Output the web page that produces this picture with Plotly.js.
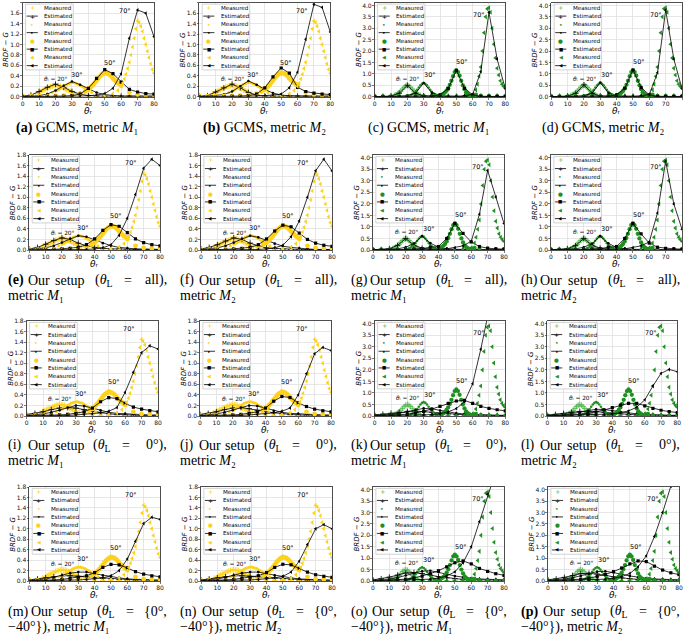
<!DOCTYPE html>
<html><head><meta charset="utf-8">
<script src="https://cdn.plot.ly/plotly-3.0.1.min.js"></script>
<style>html,body{margin:0;padding:0;background:#fff;}#chart{width:685px;height:641px;}</style>
</head><body><div id="chart"></div>
<script>
// ---------------- DATA ----------------
const thetaR = [0,5,10,15,20,25,30,35,40,45,50,55,60,65,70,75,80];
const xTickVals = [0,10,20,30,40,50,60,70,80];
const yTickValsY = [0,0.2,0.4,0.6,0.8,1.0,1.2,1.4,1.6,1.8];
const yTickValsG = [0,0.5,1.0,1.5,2.0,2.5,3.0,3.5,4.0];
const incidence = ['20°','30°','50°','70°'];

// measured, yellow panels
const mY20x = [0,5,8,10,11,12,13,14,15,16,17,18,19,20,21,22,23,24,25,26,27,28,29,30,32,35,40,45,50,55,60,65,70,75,80];
const mY20y = [0.01,0.02,0.06,0.09,0.10,0.12,0.13,0.15,0.16,0.18,0.19,0.20,0.21,0.22,0.21,0.21,0.20,0.18,0.17,0.15,0.13,0.12,0.10,0.09,0.06,0.04,0.02,0.01,0.01,0.01,0.01,0.01,0.01,0.01,0.01];
const mY30x = [0,5,10,15,18,20,21,22,23,24,25,26,27,28,29,30,31,32,33,34,35,36,37,38,39,40,42,45,50,55,60,65,70,75,80];
const mY30y = [0.01,0.01,0.02,0.05,0.08,0.11,0.12,0.14,0.16,0.18,0.20,0.22,0.24,0.25,0.26,0.27,0.27,0.26,0.25,0.24,0.22,0.20,0.18,0.16,0.14,0.12,0.08,0.04,0.02,0.01,0.01,0.01,0.01,0.01,0.01];
const mY50x = [0,5,10,15,20,25,30,35,38,40,41,42,43,44,45,46,47,48,49,50,51,52,53,54,55,56,57,58,59,60,65,70,75,80];
const mY50y = [0.01,0.01,0.01,0.01,0.01,0.02,0.03,0.06,0.10,0.14,0.17,0.20,0.23,0.27,0.31,0.35,0.39,0.42,0.44,0.46,0.45,0.44,0.42,0.39,0.35,0.32,0.29,0.26,0.24,0.21,0.08,0.04,0.03,0.03];
const mY70x = [0,5,10,15,20,25,30,35,40,45,50,55,58,60,61,62,63,64,65,66,67,68,69,70,71,72,73,74,75,76,77,78,79,80];
const mY70y = [0.01,0.01,0.01,0.01,0.01,0.01,0.01,0.01,0.01,0.02,0.03,0.06,0.12,0.20,0.26,0.34,0.43,0.54,0.66,0.80,0.95,1.12,1.30,1.45,1.42,1.35,1.25,1.12,1.00,0.87,0.75,0.63,0.52,0.45];

// measured, green panels
const mG20x = [0,5,10,12,13,14,15,16,17,18,19,20,21,22,23,24,25,26,27,28,30,35,40,45,50,55,60,65,70,75,80];
const mG20y = [0.01,0.01,0.03,0.06,0.09,0.13,0.18,0.25,0.33,0.41,0.47,0.50,0.47,0.41,0.33,0.25,0.18,0.12,0.08,0.05,0.02,0.01,0.01,0.01,0.01,0.01,0.01,0.01,0.01,0.01,0.01];
const mG30x = [0,5,10,15,20,22,23,24,25,26,27,28,29,30,31,32,33,34,35,36,37,38,40,45,50,55,60,65,70,75,80];
const mG30y = [0.01,0.01,0.01,0.01,0.02,0.07,0.11,0.16,0.22,0.30,0.40,0.50,0.57,0.60,0.57,0.50,0.40,0.30,0.22,0.15,0.10,0.07,0.03,0.01,0.01,0.01,0.01,0.01,0.01,0.01,0.01];
const mG50x = [0,5,10,15,20,25,30,35,38,40,41,42,43,44,45,46,47,48,49,50,51,52,53,54,55,56,57,58,59,60,61,62,65,70,75,80];
const mG50y = [0.01,0.01,0.01,0.01,0.01,0.01,0.01,0.02,0.03,0.05,0.08,0.12,0.18,0.26,0.37,0.52,0.70,0.90,1.08,1.15,1.08,0.92,0.70,0.50,0.33,0.20,0.12,0.07,0.04,0.04,0.06,0.09,0.04,0.02,0.01,0.01];
const mG70x = [0,5,10,15,20,25,30,35,40,45,50,55,58,60,62,63,64,65,66,67,68,69,70,71,72,73,74,75,76,77,78,79,80];
const mG70y = [0.01,0.01,0.01,0.01,0.01,0.01,0.01,0.01,0.01,0.01,0.02,0.03,0.05,0.10,0.30,0.55,0.90,1.30,2.00,2.80,3.50,3.85,3.90,3.70,3.00,2.30,1.70,1.25,0.95,0.70,0.55,0.45,0.38];

// estimated, one set per panel (values at thetaR)
const estA20 = [0.01,0.03,0.10,0.18,0.24,0.18,0.10,0.05,0.02,0.01,0.01,0.01,0.01,0.01,0.01,0.01,0.01];
const estA30 = [0.00,0.01,0.02,0.05,0.12,0.21,0.29,0.23,0.15,0.08,0.04,0.02,0.01,0.01,0.01,0.01,0.01];
const estA50 = [0.00,0.00,0.00,0.01,0.01,0.01,0.02,0.05,0.16,0.35,0.52,0.44,0.28,0.14,0.09,0.06,0.05];
const estA70 = [0.00,0.00,0.00,0.00,0.00,0.00,0.01,0.01,0.02,0.03,0.06,0.16,0.44,1.12,1.66,1.60,1.15];
const estB20 = [0.01,0.02,0.09,0.17,0.24,0.17,0.08,0.03,0.01,0.01,0.01,0.01,0.01,0.01,0.01,0.01,0.01];
const estB30 = [0.00,0.01,0.02,0.04,0.10,0.20,0.30,0.23,0.14,0.07,0.03,0.02,0.01,0.01,0.01,0.01,0.01];
const estB50 = [0.00,0.00,0.00,0.00,0.01,0.01,0.02,0.05,0.17,0.38,0.55,0.45,0.18,0.10,0.07,0.05,0.04];
const estB70 = [0.00,0.00,0.00,0.00,0.00,0.00,0.01,0.01,0.02,0.03,0.05,0.17,0.47,1.10,1.77,1.71,1.24];
const estC20 = [0.00,0.01,0.03,0.15,0.50,0.15,0.04,0.02,0.01,0.01,0.01,0.01,0.01,0.01,0.01,0.01,0.01];
const estC30 = [0.00,0.00,0.01,0.02,0.05,0.15,0.60,0.17,0.04,0.01,0.01,0.01,0.01,0.01,0.01,0.01,0.01];
const estC50 = [0.00,0.00,0.00,0.00,0.01,0.01,0.01,0.03,0.08,0.35,1.15,0.38,0.08,0.02,0.01,0.01,0.01];
const estC70 = [0.00,0.00,0.00,0.00,0.00,0.00,0.00,0.01,0.01,0.01,0.02,0.04,0.10,1.10,3.70,1.65,0.35];
const estD20 = [0.00,0.01,0.03,0.15,0.52,0.14,0.03,0.01,0.01,0.01,0.01,0.01,0.01,0.01,0.01,0.01,0.01];
const estD30 = [0.00,0.00,0.01,0.02,0.05,0.15,0.62,0.16,0.04,0.01,0.01,0.01,0.01,0.01,0.01,0.01,0.01];
const estD50 = [0.00,0.00,0.00,0.00,0.01,0.01,0.01,0.03,0.08,0.37,1.17,0.40,0.08,0.02,0.01,0.01,0.01];
const estD70 = [0.00,0.00,0.00,0.00,0.00,0.00,0.00,0.01,0.01,0.01,0.02,0.04,0.10,1.05,3.80,1.65,0.35];
const estE20 = [0.02,0.05,0.11,0.18,0.23,0.20,0.13,0.08,0.05,0.03,0.02,0.02,0.01,0.01,0.01,0.01,0.01];
const estE30 = [0.01,0.02,0.04,0.08,0.14,0.21,0.27,0.25,0.19,0.13,0.08,0.05,0.03,0.02,0.02,0.01,0.01];
const estE50 = [0.00,0.01,0.01,0.01,0.02,0.03,0.05,0.10,0.21,0.37,0.48,0.45,0.33,0.21,0.14,0.10,0.08];
const estE70 = [0.00,0.00,0.00,0.00,0.00,0.01,0.01,0.01,0.02,0.04,0.10,0.28,0.60,1.05,1.55,1.72,1.60];
const estF20 = [0.02,0.05,0.10,0.17,0.23,0.20,0.13,0.08,0.04,0.03,0.02,0.01,0.01,0.01,0.01,0.01,0.01];
const estF30 = [0.01,0.02,0.04,0.08,0.14,0.21,0.27,0.24,0.18,0.12,0.07,0.05,0.03,0.02,0.01,0.01,0.01];
const estF50 = [0.00,0.01,0.01,0.01,0.02,0.03,0.05,0.10,0.21,0.36,0.47,0.44,0.32,0.20,0.13,0.09,0.07];
const estF70 = [0.00,0.00,0.00,0.00,0.00,0.01,0.01,0.01,0.02,0.04,0.09,0.25,0.55,1.00,1.50,1.72,1.50];
const estG20 = [0.01,0.02,0.06,0.20,0.50,0.20,0.08,0.04,0.02,0.01,0.01,0.01,0.01,0.01,0.01,0.01,0.01];
const estG30 = [0.00,0.01,0.02,0.05,0.12,0.28,0.60,0.30,0.12,0.05,0.03,0.02,0.01,0.01,0.01,0.01,0.01];
const estG50 = [0.00,0.00,0.01,0.01,0.02,0.04,0.06,0.12,0.15,0.50,1.15,0.72,0.35,0.15,0.08,0.05,0.04];
const estG70 = [0.00,0.00,0.00,0.00,0.01,0.01,0.01,0.02,0.03,0.05,0.10,0.18,0.38,1.55,3.45,2.30,1.15];
const estH20 = [0.01,0.02,0.06,0.19,0.50,0.20,0.08,0.04,0.02,0.01,0.01,0.01,0.01,0.01,0.01,0.01,0.01];
const estH30 = [0.00,0.01,0.02,0.05,0.12,0.27,0.60,0.29,0.11,0.05,0.03,0.02,0.01,0.01,0.01,0.01,0.01];
const estH50 = [0.00,0.00,0.01,0.01,0.02,0.04,0.06,0.12,0.15,0.50,1.15,0.70,0.30,0.12,0.07,0.05,0.04];
const estH70 = [0.00,0.00,0.00,0.00,0.01,0.01,0.01,0.02,0.03,0.05,0.10,0.18,0.35,1.60,3.85,2.00,0.90];
const estI20 = [0.03,0.05,0.08,0.12,0.15,0.16,0.15,0.12,0.09,0.06,0.04,0.03,0.02,0.02,0.01,0.01,0.01];
const estI30 = [0.01,0.02,0.04,0.07,0.11,0.16,0.20,0.19,0.15,0.11,0.07,0.05,0.04,0.03,0.02,0.02,0.02];
const estI50 = [0.01,0.01,0.01,0.02,0.02,0.03,0.05,0.08,0.15,0.27,0.35,0.33,0.24,0.17,0.13,0.10,0.08];
const estI70 = [0.00,0.00,0.01,0.01,0.01,0.01,0.02,0.03,0.04,0.06,0.09,0.16,0.45,0.83,1.20,1.33,1.27];
const estJ20 = [0.03,0.05,0.08,0.12,0.15,0.16,0.14,0.11,0.08,0.06,0.04,0.03,0.02,0.02,0.01,0.01,0.01];
const estJ30 = [0.01,0.02,0.04,0.07,0.11,0.16,0.20,0.19,0.15,0.10,0.07,0.05,0.04,0.03,0.02,0.02,0.02];
const estJ50 = [0.01,0.01,0.01,0.02,0.02,0.03,0.05,0.08,0.15,0.28,0.37,0.35,0.25,0.18,0.13,0.10,0.08];
const estJ70 = [0.00,0.00,0.01,0.01,0.01,0.01,0.02,0.03,0.04,0.06,0.09,0.15,0.40,0.80,1.18,1.30,1.24];
const estK20 = [0.05,0.08,0.12,0.16,0.20,0.21,0.19,0.16,0.12,0.09,0.07,0.05,0.04,0.03,0.03,0.02,0.02];
const estK30 = [0.02,0.04,0.07,0.12,0.18,0.26,0.33,0.31,0.24,0.17,0.12,0.09,0.07,0.05,0.04,0.03,0.03];
const estK50 = [0.01,0.02,0.03,0.05,0.08,0.13,0.20,0.30,0.42,0.55,0.65,0.68,0.55,0.42,0.33,0.27,0.22];
const estK70 = [0.00,0.01,0.01,0.01,0.02,0.03,0.04,0.06,0.10,0.18,0.32,0.62,1.40,2.90,4.60,5.30,5.60];
const estL20 = [0.04,0.07,0.11,0.16,0.20,0.21,0.19,0.16,0.12,0.09,0.07,0.05,0.04,0.03,0.03,0.02,0.02];
const estL30 = [0.02,0.03,0.06,0.10,0.16,0.23,0.29,0.28,0.23,0.17,0.12,0.09,0.07,0.05,0.04,0.03,0.03];
const estL50 = [0.01,0.02,0.03,0.04,0.07,0.11,0.17,0.26,0.36,0.47,0.55,0.55,0.44,0.33,0.25,0.19,0.15];
const estL70 = [0.00,0.01,0.01,0.01,0.02,0.03,0.04,0.06,0.09,0.14,0.22,0.38,0.70,1.30,1.85,2.02,1.92];
const estM20 = [0.02,0.04,0.06,0.08,0.10,0.10,0.09,0.08,0.06,0.05,0.04,0.03,0.02,0.02,0.02,0.01,0.01];
const estM30 = [0.01,0.02,0.04,0.07,0.11,0.15,0.17,0.17,0.14,0.11,0.08,0.06,0.04,0.03,0.03,0.02,0.02];
const estM50 = [0.01,0.01,0.02,0.02,0.03,0.05,0.07,0.10,0.16,0.26,0.32,0.31,0.25,0.18,0.13,0.10,0.08];
const estM70 = [0.00,0.01,0.01,0.01,0.01,0.02,0.02,0.03,0.04,0.06,0.10,0.20,0.42,0.76,1.10,1.22,1.18];
const estN20 = [0.02,0.04,0.06,0.08,0.10,0.10,0.09,0.08,0.06,0.05,0.04,0.03,0.02,0.02,0.02,0.01,0.01];
const estN30 = [0.01,0.02,0.04,0.07,0.11,0.15,0.17,0.17,0.14,0.11,0.08,0.06,0.04,0.03,0.03,0.02,0.02];
const estN50 = [0.01,0.01,0.02,0.02,0.03,0.05,0.07,0.10,0.16,0.26,0.32,0.31,0.24,0.17,0.12,0.09,0.07];
const estN70 = [0.00,0.01,0.01,0.01,0.01,0.02,0.02,0.03,0.04,0.06,0.09,0.17,0.38,0.70,1.00,1.08,1.00];
const estO20 = [0.05,0.10,0.17,0.26,0.35,0.37,0.33,0.26,0.19,0.14,0.10,0.07,0.06,0.05,0.04,0.03,0.03];
const estO30 = [0.03,0.05,0.09,0.15,0.24,0.34,0.43,0.45,0.39,0.30,0.22,0.16,0.12,0.09,0.07,0.06,0.05];
const estO50 = [0.01,0.02,0.03,0.05,0.08,0.13,0.21,0.32,0.45,0.62,0.80,0.88,0.75,0.55,0.42,0.32,0.25];
const estO70 = [0.00,0.01,0.01,0.02,0.02,0.03,0.05,0.08,0.13,0.22,0.40,0.80,1.50,2.60,3.80,4.80,5.50];
const estP20 = [0.05,0.09,0.16,0.24,0.32,0.34,0.31,0.25,0.18,0.13,0.10,0.07,0.06,0.05,0.04,0.03,0.03];
const estP30 = [0.03,0.05,0.09,0.14,0.22,0.32,0.41,0.43,0.38,0.30,0.22,0.16,0.12,0.09,0.07,0.06,0.05];
const estP50 = [0.01,0.02,0.03,0.05,0.08,0.12,0.19,0.29,0.41,0.57,0.75,0.88,0.85,0.65,0.48,0.36,0.28];
const estP70 = [0.00,0.01,0.01,0.02,0.02,0.03,0.05,0.08,0.12,0.19,0.33,0.62,1.10,1.95,3.00,4.15,4.90];

// captions (text)
const capRow1 = ['<b>(a)</b> GCMS, metric <i>M</i>₁','<b>(b)</b> GCMS, metric <i>M</i>₂','(c) GCMS, metric <i>M</i>₁','(d) GCMS, metric <i>M</i>₂'];
const capLetters = [null,['<b>(e)</b>','(f)','(g)','(h)'],['(i)','(j)','(k)','(l)'],['(m)','(n)','(o)','<b>(p)</b>']];
const capLast = [null,'all),','0°),','{0°,'];
const capLine2 = [null,['metric <i>M</i>₁','metric <i>M</i>₂','metric <i>M</i>₁','metric <i>M</i>₂'],
  ['metric <i>M</i>₁','metric <i>M</i>₂','metric <i>M</i>₁','metric <i>M</i>₂'],
  ['−40°}), metric <i>M</i>₁','−40°}), metric <i>M</i>₂','−40°}), metric <i>M</i>₁','−40°}), metric <i>M</i>₂']];

// ---------------- LAYOUT / DRAWING ----------------
const W=685,H=641;
const kinds = ['Y','Y','G','G','Y','Y','G','G','Y','Y','G','G','Y','Y','G','G'];
const estSets = [
 [estA20,estA30,estA50,estA70],[estB20,estB30,estB50,estB70],[estC20,estC30,estC50,estC70],[estD20,estD30,estD50,estD70],
 [estE20,estE30,estE50,estE70],[estF20,estF30,estF50,estF70],[estG20,estG30,estG50,estG70],[estH20,estH30,estH50,estH70],
 [estI20,estI30,estI50,estI70],[estJ20,estJ30,estJ50,estJ70],[estK20,estK30,estK50,estK70],[estL20,estL30,estL50,estL70],
 [estM20,estM30,estM50,estM70],[estN20,estN30,estN50,estN70],[estO20,estO30,estO50,estO70],[estP20,estP30,estP50,estP70]];
const measY = [[mY20x,mY20y],[mY30x,mY30y],[mY50x,mY50y],[mY70x,mY70y]];
const measG = [[mG20x,mG20y],[mG30x,mG30y],[mG50x,mG50y],[mG70x,mG70y]];
const panelPx = [[22.7,154],[199.3,330.3],[374.7,505.3],[551.3,682],
                 [29.3,160],[201,332],[373,504],[551,682],
                 [26.7,158],[200,331],[374.7,505.3],[547.3,677.3],
                 [29.3,160],[201,332],[373,504],[548,679]];
const rowPy = [[2.7,96.7],[155,250],[321,416],[487,581]];
const COLY = '#FFD21A', COLG = '#1f8f1f', COLG2 = '#55b855';
const FONT = 'DejaVu Sans';

const measMarker = (k, col, green) => [
  {symbol:'cross-thin', size:4, color:col, line:{color:col,width:0.9}},
  {symbol:'circle', size:green?2.6:3, color:col, line:{width:0}},
  {symbol:'circle', size:green?4.3:4.8, color:col, line:{width:0}},
  {symbol:'triangle-left', size:green?4.4:4.2, color:col, line:{width:0}}][k];
const estMarker = (k) => [
  {symbol:'cross-thin', size:4, color:'black', line:{color:'black',width:0.8}},
  {symbol:'circle', size:2.6, color:'black', line:{width:0}},
  {symbol:'square', size:3.2, color:'black', line:{width:0}},
  {symbol:'triangle-left', size:3.4, color:'black', line:{width:0}}][k];

const labelPosY = [[20.5,0.33],[33,0.42],[53,0.64],[62.5,1.65]];
const labelPosG = [[20.5,0.78],[34,0.93],[53.5,1.5],[64,3.58]];

const traces=[], annotations=[], shapes=[];
const layout = {width:W,height:H,margin:{l:0,r:0,t:0,b:0,pad:0},showlegend:false,
  paper_bgcolor:'white',plot_bgcolor:'white',annotations,shapes,font:{family:FONT,color:'black'}};

for(let i=0;i<16;i++){
  const n=i+1, sfx = n===1?'':String(n);
  const xa='x'+sfx, ya='y'+sfx;
  const row=Math.floor(i/4);
  const px=panelPx[i], py=rowPy[row];
  const green = kinds[i]==='G';
  const axCommon = {showgrid:true, gridcolor:'#dcdcdc', gridwidth:0.7, zeroline:false,
    showline:true, mirror:true, linecolor:'#222', linewidth:0.8,
    ticks:'outside', ticklen:2, tickwidth:0.6, tickcolor:'#222', ticklabelstandoff:-1,
    tickfont:{family:FONT,size:6,color:'#111'}, fixedrange:true};
  layout['xaxis'+sfx] = Object.assign({}, axCommon, {domain:[px[0]/W, px[1]/W], range:[0,80], anchor:ya,
    tickmode:'array', tickvals:xTickVals, ticktext:xTickVals.map(String)});
  const yv = green? yTickValsG : yTickValsY;
  layout['yaxis'+sfx] = Object.assign({}, axCommon, {domain:[1-py[1]/H, 1-py[0]/H], range: green?[0,4.12]:[0,1.8], anchor:xa,
    tickmode:'array', tickvals:yv, ticktext:yv.map(v=>v.toFixed(1))});

  const meas = green? measG : measY;
  for(let k=0;k<4;k++){
    let mc = green ? (k===0?COLG2:COLG) : COLY;
    traces.push({x:meas[k][0], y:meas[k][1], xaxis:xa, yaxis:ya, type:'scatter', mode:'markers',
      name:'Measured', marker:measMarker(k,mc,green), hoverinfo:'skip'});
    traces.push({x:thetaR, y:estSets[i][k], xaxis:xa, yaxis:ya, type:'scatter', mode:'lines+markers',
      name:'Estimated', line:{color:'black',width:0.8}, marker:estMarker(k), hoverinfo:'skip'});
  }
  // incidence labels
  const lp = green? labelPosG : labelPosY;
  for(let k=0;k<4;k++){
    const txt = k===0 ? '<i>θ</i>ᵢ = '+incidence[0] : incidence[k];
    annotations.push({xref:xa, yref:ya, x:lp[k][0], y:lp[k][1], text:txt, showarrow:false,
      font:{family:FONT,size:k===0?5.8:6.5,color:'black'}, xanchor:'center', yanchor:'middle'});
  }
  // axis titles
  annotations.push({xref:'paper',yref:'paper', x:(px[0]-16.5)/W, y:1-(py[0]+py[1])/2/H, text:'<i>BRDF − G</i>',
    textangle:-90, showarrow:false, font:{family:FONT,size:7}, xanchor:'center', yanchor:'middle'});
  annotations.push({xref:'paper',yref:'paper', x:(px[0]+px[1])/2/W, y:1-(py[1]+14)/H, text:'<i>θ</i>ᵣ',
    showarrow:false, font:{family:FONT,size:9}, xanchor:'center', yanchor:'middle'});
  // legend (drawn in axis-domain coordinates)
  const xd = xa+' domain', yd = ya+' domain';
  shapes.push({type:'rect', xref:xd, yref:yd, x0:0.022, x1:0.385, y0:0.285, y1:0.985,
    fillcolor:'rgba(255,255,255,0.85)', line:{color:'#c8c8c8',width:0.8}, layer:'above'});
  const mSyms = ['+','•','●','◀'], eSyms = ['+','•','■','◀'];
  const mSizes = [6.5,6,5.5,5], eSizes = [6,6,4.5,4.5];
  for(let r=0;r<8;r++){
    const yy = 0.945 - 0.0878*r;
    const k = Math.floor(r/2), isEst = r%2===1;
    if(isEst){
      shapes.push({type:'line', xref:xd, yref:yd, x0:0.03, x1:0.115, y0:yy, y1:yy, line:{color:'black',width:0.8}, layer:'above'});
    }
    const mc = green ? (k===0?COLG2:COLG) : COLY;
    annotations.push({xref:xd, yref:yd, x:0.0725, y:yy, text: isEst? eSyms[k] : mSyms[k], showarrow:false,
      font:{family:FONT,size:isEst?eSizes[k]:mSizes[k],color:isEst?'black':mc}, xanchor:'center', yanchor:'middle'});
    annotations.push({xref:xd, yref:yd, x:0.15, y:yy, text:isEst?'Estimated':'Measured', showarrow:false,
      font:{family:FONT,size:5.6,color:'black'}, xanchor:'left', yanchor:'middle'});
  }
}

// captions
const SERIF = 'Liberation Serif';
const capCenter=[77,264,428.7,602.7];
const capY1=[128,280,445,611.7], capY2=[null,295,460.5,626.7];
const capLeft=[6,177.5,348.5,518.5], capRight=[169,338.5,509,682];
const capFrac=[null,[0.2,0.392,0.601,0.746],[0.2,0.39,0.592,0.737],[0.218,0.412,0.614,0.759]];
for(let c=0;c<4;c++){
  annotations.push({xref:'paper',yref:'paper',x:capCenter[c]/W,y:1-capY1[0]/H,text:capRow1[c],showarrow:false,
    font:{family:SERIF,size:14,color:'black'},xanchor:'center',yanchor:'middle'});
}
for(let r=1;r<4;r++){
  for(let c=0;c<4;c++){
    const L=capLeft[c], R=capRight[c], w=R-L;
    const toks=[capLetters[r][c],'Our','setup','(<i>θ</i><sub>L</sub>','=',capLast[r]];
    toks.forEach((t,j)=>{
      let x, anc;
      if(j===0){x=L;anc='left';} else if(j===5){x=R;anc='right';} else {x=L+capFrac[r][j-1]*w;anc='center';}
      annotations.push({xref:'paper',yref:'paper',x:x/W,y:1-capY1[r]/H,text:t,showarrow:false,
        font:{family:SERIF,size:14,color:'black'},xanchor:anc,yanchor:'middle'});
    });
    annotations.push({xref:'paper',yref:'paper',x:L/W,y:1-capY2[r]/H,text:capLine2[r][c],showarrow:false,
      font:{family:SERIF,size:14,color:'black'},xanchor:'left',yanchor:'middle'});
  }
}

Plotly.newPlot('chart', traces, layout, {displayModeBar:false, staticPlot:true});
</script></body></html>
